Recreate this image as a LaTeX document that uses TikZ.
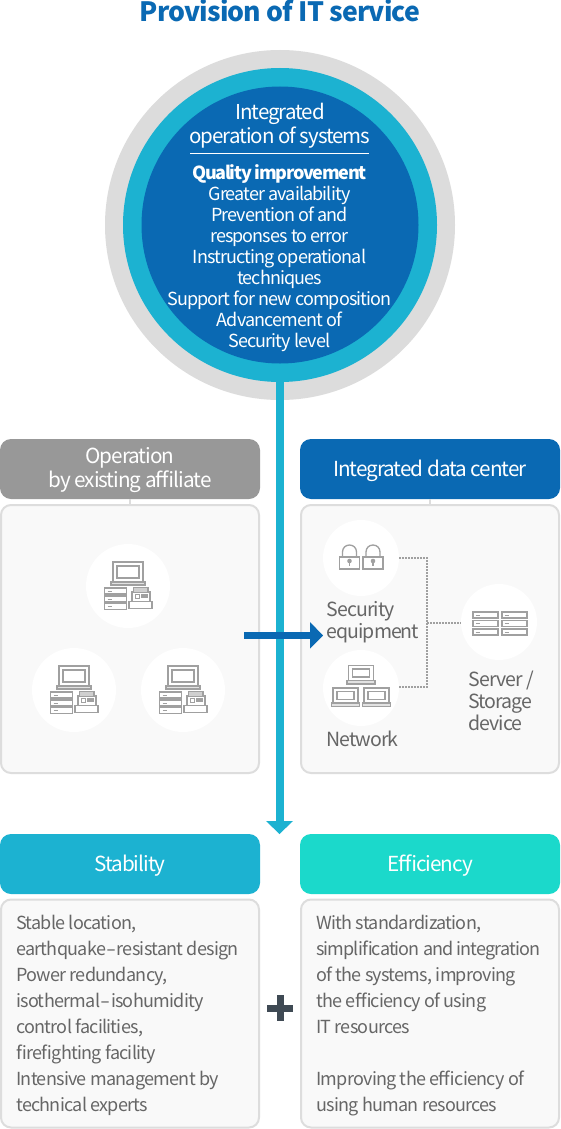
\documentclass[tikz,border=0pt]{standalone}
\usepackage{fontspec}
\setmainfont{Noto Sans CJK KR}[LetterSpace=-5]
\newfontfamily\titlefont{Noto Sans CJK KR}[LetterSpace=-3]
\usetikzlibrary{calc}
\definecolor{cblue}{HTML}{0A69B3}
\definecolor{cteal}{HTML}{1CB2D1}
\definecolor{cmint}{HTML}{1BD9CB}
\definecolor{cgrayh}{HTML}{989898}
\definecolor{cring}{HTML}{DCDCDC}
\definecolor{cpanel}{HTML}{F9F9F9}
\definecolor{cbord}{HTML}{DDDDDD}
\definecolor{cicon}{HTML}{A0A0A0}
\definecolor{ctext}{HTML}{666666}
\definecolor{cplus}{HTML}{3F4A54}
\newcommand\downtwo[1]{\raisebox{0pt}[\dimexpr\height+4pt\relax][\depth]{#1}}
\newcommand\widehy{\kern.4pt\scalebox{1.6}[1]{-}\kern.4pt}
\tikzset{
  x=1pt,y=-1pt,
  header/.style={rounded corners=11pt,minimum width=260pt,minimum height=60pt,inner sep=0pt,text=white,align=center,font=\fontsize{20.7}{23.5}\selectfont},
  panel/.style={draw=cbord,line width=2pt,fill=cpanel,rounded corners=10pt,inner sep=0pt,minimum width=258pt},
  disc/.style={circle,fill=white,inner sep=0pt},
  body/.style={inner sep=0pt,anchor=north west,align=left,text=ctext,font=\fontsize{18}{26}\selectfont\addfontfeature{LetterSpace=-4}},
  lab/.style={inner sep=0pt,anchor=north west,align=left,text=ctext,font=\fontsize{19.5}{22}\selectfont},
  ic/.style={draw=cicon,line width=1.3pt},
  dots/.style={draw=cicon,line width=1.4pt,dash pattern=on 1.5pt off 1.5pt},
  pics/rack/.style={code={
    \draw[ic] (-11,-3) rectangle (11,3);
    \draw[cicon,line width=1pt] (-8,0) -- (-4,0);
  }},
  pics/station/.style={code={
    \draw[ic] (-15,-24) rectangle (15,-4);
    \draw[ic] (-11,-20) rectangle (11,-8);
    \draw[ic,fill=cicon!30] (-17,-4) rectangle (17,-1);
    \path (-12.5,5) pic {rack};
    \path (-12.5,13) pic {rack};
    \path (-12.5,20.5) pic {rack};
    \draw[ic] (1,15.5) rectangle (24,22.5);
    \draw[ic] (4,14.5) -- (4,6) -- (22,6) -- (22,14.5);
    \draw[ic,fill=cicon!50] (5.5,5.5) -- (5.5,1.5) -- (20,1.5) -- (20,5.5);
    \draw[ic,line width=1pt] (7,8) rectangle (11,12);
    \draw[cicon,line width=3.5pt] (13,10) -- (19.5,10);
  }},
  pics/padlock/.style={code={
    \draw[ic] (-10,-1) rectangle (10,11);
    \draw[ic] (-7,-1) -- (-7,-6) .. controls (-7,-10) and (-4,-13) .. (0,-13) .. controls (4,-13) and (7,-10) .. (7,-6) -- (7,-1);
    \fill[cicon] (0,3) circle[radius=2.3];
    \draw[cicon,line width=1.5pt] (0,3) -- (0,8);
  }},
  pics/smalllap/.style={code={
    \draw[ic] (-12.5,-7.5) rectangle (12.5,7.5);
    \draw[ic] (-8.5,-4) rectangle (8.5,4);
    \draw[ic,fill=cicon!30] (-14,7.5) rectangle (14,11);
  }},
  pics/srv/.style={code={
    \draw[ic] (-12.5,-3) rectangle (12.5,3);
    \draw[cicon,line width=.8pt] (-10,0) -- (-6,0);
  }}
}
\begin{document}
\begin{tikzpicture}
\useasboundingbox (0,0) rectangle (560,1129);
\fill[white] (0,0) rectangle (560,1129);

\coordinate (shaftend) at (280,821);

% circle group
\node[circle,fill=cring,minimum size=350pt,inner sep=0pt] (ring) at (280,225) {};
\node[circle,fill=cteal,minimum size=314pt,inner sep=0pt] (midc) at (280,225) {};
\node[circle,fill=cblue,minimum size=277pt,inner sep=0pt] (core) at (280,225) {};

\node[inner sep=0pt,text=cblue,font=\fontsize{26.6}{30}\selectfont] (title) at (280,11) {\titlefont\bfseries Provision of IT service};

\node[inner sep=0pt,text=white,align=center,font=\fontsize{20.5}{24}\selectfont] (coretop) at (280,126) {Integrated\\operation of systems};
\coordinate (ruleL) at (190,153);
\coordinate (ruleR) at (369,153);
\draw[white,line width=.8pt] (ruleL) -- (ruleR);
\node[inner sep=0pt,text=white,align=center,font=\fontsize{18}{21}\selectfont] (corebody) at (279.5,258) {{\bfseries\addfontfeature{LetterSpace=-7}Quality improvement}\\Greater availability\\Prevention of and\\responses to error\\Instructing operational\\techniques\\Support for new composition\\Advancement of\\Security level};

% headers
\node[header,fill=cgrayh] (hOp) at (130,469) {\downtwo{\begin{tabular}{@{}c@{}}Operation\\by existing affiliate\end{tabular}}};
\node[header,fill=cblue] (hDc) at (430,469) {\downtwo{Integrated data center}};
\node[header,fill=cteal] (hSt) at (130,864) {\downtwo{Stability}};
\node[header,fill=cmint] (hEf) at (430,864) {\downtwo{Efficiency}};

% panels
\node[panel,minimum height=268pt] (pOp) at (130,639) {};
\node[panel,minimum height=268pt] (pDc) at (430,639) {};
\node[panel,minimum height=228pt] (pSt) at (130,1013.5) {};
\node[panel,minimum height=228pt] (pEf) at (430,1013.5) {};
\draw[cbord,line width=1.5pt] (hOp.south) -- (pOp.north);
\draw[cbord,line width=1.5pt] (hDc.south) -- (pDc.north);

% shaft and its head
\draw[cteal,line width=8.5pt] (midc.south) -- (shaftend);
\fill[cteal] (266,821) -- (293,821) -- (279.5,834) -- cycle;

% left discs
\node[disc,minimum size=84pt] (d1) at (128,586) {};
\node[disc,minimum size=84pt] (d2) at (74,690) {};
\node[disc,minimum size=84pt] (d3) at (183,690) {};
\path (d1.center) pic {station};
\path (d2.center) pic {station};
\path (d3.center) pic {station};

% right discs
\node[disc,minimum size=76pt] (sec) at (361,558) {};
\node[disc,minimum size=76pt] (net) at (361,688) {};
\node[disc,minimum size=76pt] (srv) at (499,622) {};
\coordinate (jt) at (427,558);
\coordinate (jb) at (427,687);
\coordinate (jm) at (427,623);
\draw[dots] (sec.east) -- (jt) -- (jb) -- (net.east|-jb);
\draw[dots] (jm) -- (srv.west|-jm);

\path (sec.center) ++(-11.5,0) pic {padlock};
\path (sec.center) ++(12,0) pic {padlock};
\path (net.center) ++(0,-15) pic {smalllap};
\path (net.center) ++(-15.5,7.5) pic {smalllap};
\path (net.center) ++(15.5,7.5) pic {smalllap};
\foreach \yy in {-7,1.5,10}{
  \path (srv.center) ++(-13.5,\yy) pic {srv};
  \path (srv.center) ++(15.5,\yy) pic {srv};
}

\node[lab] (lSec) at (326.5,601.5) {Security\\equipment};
\node[lab] (lNet) at (326.5,730.5) {Network};
\node[lab] (lSrv) at (468.5,670.5) {Server /\\Storage\\device};

% horizontal arrow
\coordinate (hA) at (244,635.5);
\coordinate (hB) at (312,635.5);
\draw[cblue,line width=7pt] (hA) -- (hB);
\fill[cblue] (310,622) -- (323,635.5) -- (310,648.5) -- cycle;

% plus
\coordinate (plusC) at (280,1008);
\fill[cplus] ($(plusC)+(-13,-3.5)$) rectangle ($(plusC)+(13,3.5)$);
\fill[cplus] ($(plusC)+(-3.5,-13)$) rectangle ($(plusC)+(3.5,13)$);

% bottom texts
\node[body] (tSt) at (16,915) {Stable location,\\earthquake\widehy resistant design\\Power redundancy,\\isothermal\widehy isohumidity\\control facilities,\\firefighting facility\\Intensive management by\\technical experts};
\node[body] (tEf) at (316,915) {With standardization,\\{\addfontfeature{LetterSpace=-5}simplification and integration}\\of the systems, improving\\the efficiency of using\\IT resources\\[26pt]Improving the efficiency of\\using human resources};
\end{tikzpicture}
\end{document}
